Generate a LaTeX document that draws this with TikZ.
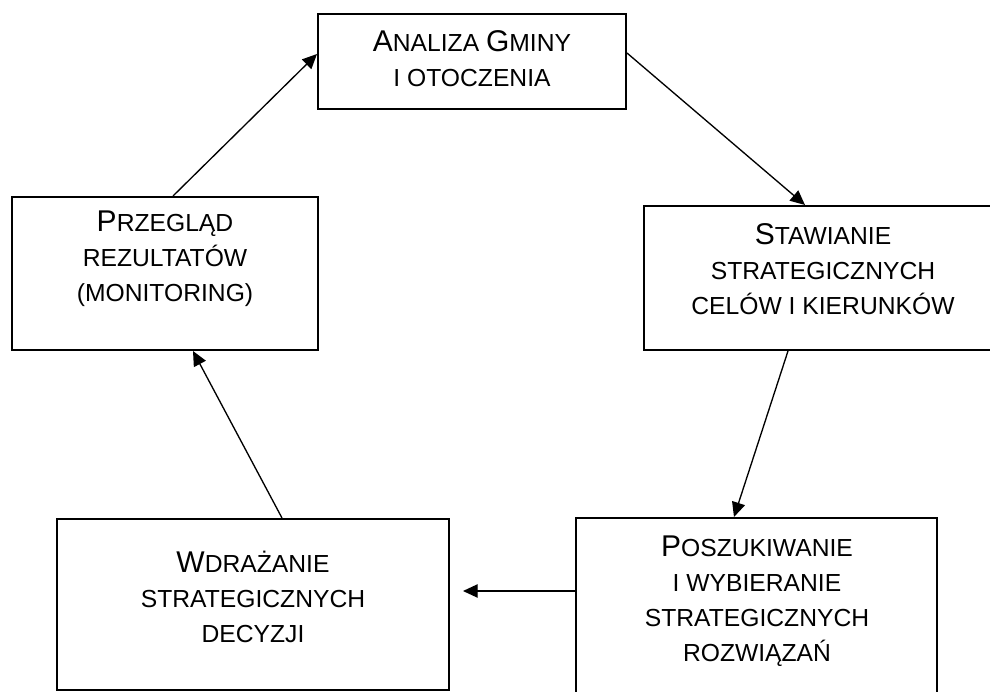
\documentclass[tikz,border=0pt]{standalone}
\usepackage{fontspec}
\setmainfont{Liberation Sans}
\usetikzlibrary{arrows.meta}

\newcommand{\Ini}[1]{{\fontsize{22.5}{26.25}\selectfont #1}}

\tikzset{every picture/.style={line width=0.75pt}}
\tikzset{
  stage/.style={draw, rectangle, line width=1.5pt, inner sep=0pt},
  stagetext/.style={anchor=base, align=center, inner sep=0pt, font=\fontsize{18.5}{26.25}\selectfont},
  flow/.style={-{Triangle[length=11pt,width=10pt]}, line width=1pt},
}

\begin{document}
\begin{tikzpicture}[x=0.75pt,y=0.75pt,yscale=-1,xscale=1]
            \useasboundingbox (0,0) rectangle (990,692);
            \clip (0,0) rectangle (990,692);

            %Shape: Rectangle [id:analiza]
            \node [stage, minimum width=231pt, minimum height=71.25pt] (analiza) at (472,61.5) {};
            %Shape: Rectangle [id:stawianie]
            \node [stage, minimum width=269.25pt, minimum height=108pt] (stawianie) at (823.5,278) {};
            %Shape: Rectangle [id:poszuk]
            \node [stage, minimum width=270.75pt, minimum height=136.5pt] (poszuk) at (756.5,609) {};
            %Shape: Rectangle [id:wdrazanie]
            \node [stage, minimum width=294pt, minimum height=128.25pt] (wdrazanie) at (253,604.5) {};
            %Shape: Rectangle [id:przeglad]
            \node [stage, minimum width=229.5pt, minimum height=114.75pt] (przeglad) at (165,273.5) {};

            % Text Node (anchored at the baseline of the last line)
            \node [stagetext] (analizatxt) at (472,87) {\Ini{A}NALIZA \Ini{G}MINY\\I OTOCZENIA};
            % Text Node
            \node [stagetext] (stawianietxt) at (823,314) {\Ini{S}TAWIANIE\\STRATEGICZNYCH\\CELÓW I KIERUNKÓW};
            % Text Node
            \node [stagetext] (poszuktxt) at (757,661) {\Ini{P}OSZUKIWANIE\\I WYBIERANIE\\STRATEGICZNYCH\\ROZWIĄZAŃ};
            % Text Node
            \node [stagetext] (wdrazanietxt) at (253,642) {\Ini{W}DRAŻANIE\\STRATEGICZNYCH\\DECYZJI};
            % Text Node
            \node [stagetext] (przegladtxt) at (165,301) {\Ini{P}RZEGLĄD\\REZULTATÓW\\(MONITORING)};

            %Straight Lines [id:przeglad-analiza]
            \draw [flow] (173,0 |- przeglad.north) -- (analiza.west |- 0,54);
            %Straight Lines [id:analiza-stawianie]
            \draw [flow] (analiza.east |- 0,53) -- (805,0 |- stawianie.north);
            %Straight Lines [id:stawianie-poszuk]
            \draw [flow] (788,0 |- stawianie.south) -- (734,0 |- poszuk.north);
            %Straight Lines [id:poszuk-wdrazanie]
            \coordinate (wdrazaniein) at (463,591);
            \draw [flow] (poszuk.west |- wdrazaniein) -- (wdrazaniein);
            %Straight Lines [id:wdrazanie-przeglad]
            \draw [flow] (282,0 |- wdrazanie.north) -- (193,0 |- przeglad.south);

\end{tikzpicture}
\end{document}
